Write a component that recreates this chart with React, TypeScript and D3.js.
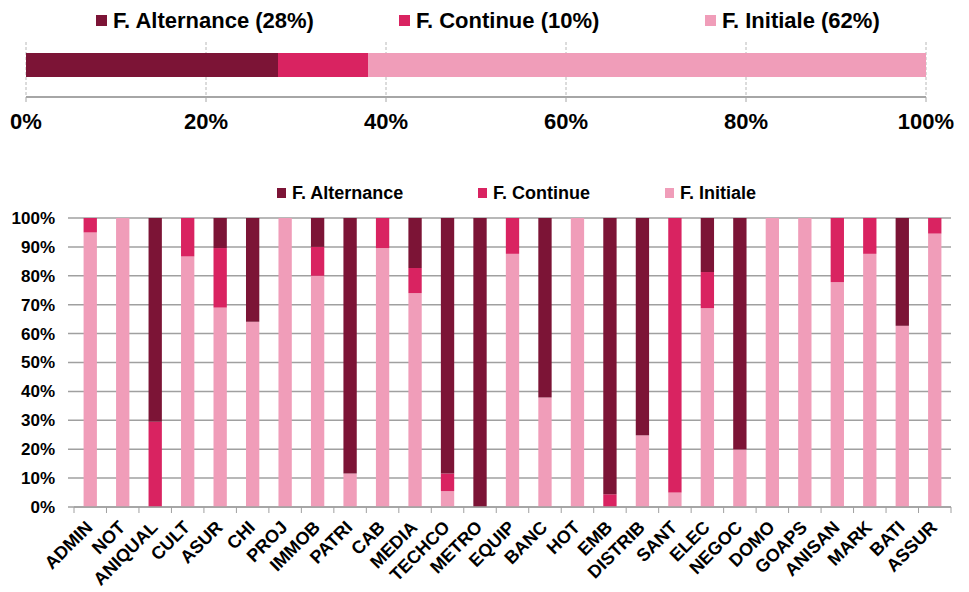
import React from "react";
import * as d3 from "d3";

const seriesNames = ["F. Alternance", "F. Continue", "F. Initiale"];
const seriesColors = ["#7c1436", "#d92361", "#f09db9"];
const totalShares = [28, 10, 62];

const categories = ["ADMIN","NOT","ANIQUAL","CULT","ASUR","CHI","PROJ","IMMOB","PATRI","CAB","MEDIA","TECHCO","METRO","EQUIP","BANC","HOT","EMB","DISTRIB","SANT","ELEC","NEGOC","DOMO","GOAPS","ANISAN","MARK","BATI","ASSUR"];
const initiale = [95,100,0,86.7,69,64.1,100,80,11.6,89.6,74,5.5,0,87.6,37.9,100,0,24.8,5,68.8,19.9,100,100,77.8,87.6,62.7,94.6];
const continue_ = [5,0,29.5,13.3,20.6,0,0,10,0,10.4,8.7,6.1,0,12.4,0,0,4.4,0,95,12.5,0,0,0,22.2,12.4,0,5.4];
const alternance = [0,0,70.5,0,10.4,35.9,0,10,88.4,0,17.3,88.4,100,0,62.1,0,95.6,75.2,0,18.7,80.1,0,0,0,0,37.3,0];

const topTicks = [0, 20, 40, 60, 80, 100];
const yTicks = d3.range(0, 101, 10);

export default function App() {
  const font = "Arial, 'Liberation Sans', sans-serif";
  const xTop = d3.scaleLinear().domain([0, 100]).range([26, 926]);
  let cum = 0;
  const topSegs = totalShares.map((v, i) => {
    const s = { x0: cum, x1: cum + v, color: seriesColors[i] };
    cum += v;
    return s;
  });
  const topLegend = [
    { sx: 96, tx: 113 },
    { sx: 399, tx: 416 },
    { sx: 705, tx: 722 },
  ];

  const x = d3.scaleBand().domain(categories).range([74, 951]).paddingInner(0.59).paddingOuter(0.295);
  const y = d3.scaleLinear().domain([0, 100]).range([507, 218]);
  const rows = categories.map((c, i) => ({ cat: c, ini: initiale[i], con: continue_[i], alt: alternance[i] }));
  const stack = d3.stack<any>().keys(["ini", "con", "alt"])(rows);
  const stackColors = [seriesColors[2], seriesColors[1], seriesColors[0]];
  const step = 877 / categories.length;
  const boundaries = d3.range(0, categories.length + 1).map((i) => 74 + i * step);
  const botLegend = [
    { sx: 277, tx: 292 },
    { sx: 478, tx: 493 },
    { sx: 665, tx: 680 },
  ];

  return (
    <svg width={953} height={584} style={{ display: "block", fontFamily: font, overflow: "visible" }}>
      <g transform="translate(-8,-8)">
        {seriesNames.map((n, i) => (
          <g key={n}>
            <rect x={topLegend[i].sx} y={15} width={11} height={11} fill={seriesColors[i]} />
            <text x={topLegend[i].tx} y={28} fontSize={22} fontWeight="bold" fill="#000">
              {`${n} (${totalShares[i]}%)`}
            </text>
          </g>
        ))}
        {topTicks.map((t) => (
          <line key={t} x1={xTop(t)} x2={xTop(t)} y1={42} y2={97} stroke="#a6a6a6" strokeDasharray="3,2" strokeWidth={0.8} />
        ))}
        {topSegs.map((s, i) => (
          <rect key={i} x={xTop(s.x0)} y={53} width={xTop(s.x1) - xTop(s.x0)} height={24} fill={s.color} />
        ))}
        <line x1={xTop(0)} x2={xTop(100)} y1={97} y2={97} stroke="#a6a6a6" strokeWidth={2} />
        {topTicks.map((t) => (
          <g key={"tt" + t}>
            <line x1={xTop(t)} x2={xTop(t)} y1={97} y2={102} stroke="#a6a6a6" strokeWidth={1} />
            <text x={xTop(t)} y={129} textAnchor="middle" fontSize={22} fontWeight="bold" fill="#000">
              {t}%
            </text>
          </g>
        ))}

        {seriesNames.map((n, i) => (
          <g key={"bl" + n}>
            <rect x={botLegend[i].sx} y={188} width={9} height={10} fill={seriesColors[i]} />
            <text x={botLegend[i].tx} y={199} fontSize={18} fontWeight="bold" fill="#000">
              {n}
            </text>
          </g>
        ))}
        {yTicks.map((t) => (
          <g key={"g" + t}>
            <line x1={68} x2={951} y1={y(t)} y2={y(t)} stroke="#a0a0a0" strokeWidth={1.5} />
            <text x={55} y={y(t)} dy="0.35em" textAnchor="end" fontSize={17} fontWeight="bold" fill="#000">
              {t}%
            </text>
          </g>
        ))}
        {stack.map((layer, li) =>
          layer.map((d, i) =>
            d[1] - d[0] > 0 ? (
              <rect
                key={li + "-" + i}
                x={x(categories[i])}
                y={y(d[1])}
                width={x.bandwidth()}
                height={y(d[0]) - y(d[1])}
                fill={stackColors[li]}
              />
            ) : null
          )
        )}
        <line x1={74} x2={951} y1={507} y2={507} stroke="#a0a0a0" strokeWidth={1.5} />
        {boundaries.map((b, i) => (
          <line key={"b" + i} x1={b} x2={b} y1={507} y2={513} stroke="#a0a0a0" strokeWidth={1} />
        ))}
        {categories.map((c) => {
          const cx = (x(c) as number) + x.bandwidth() / 2 - 1;
          return (
            <text
              key={"l" + c}
              transform={`translate(${cx},${524}) rotate(-45)`}
              textAnchor="end"
              dy="0.35em"
              fontSize={18}
              fontWeight="bold"
              fill="#000"
            >
              {c}
            </text>
          );
        })}
      </g>
    </svg>
  );
}
